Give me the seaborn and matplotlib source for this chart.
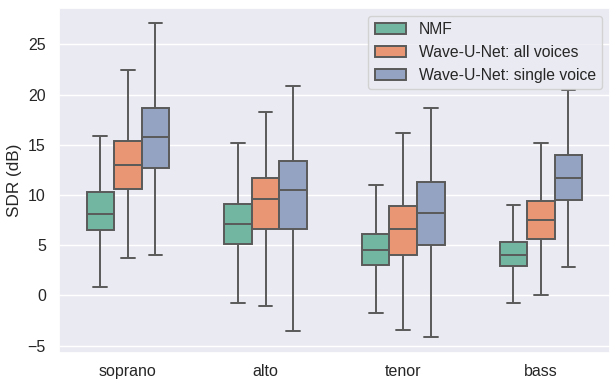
import pandas as pd
import matplotlib
matplotlib.use("Agg")
import matplotlib.pyplot as plt
import seaborn as sns

# Box statistics: min, q1, median, q3, max
voices = ["soprano", "alto", "tenor", "bass"]
methods = ["NMF", "Wave-U-Net: all voices", "Wave-U-Net: single voice"]

nmf = [
    [0.87, 6.47, 8.14, 10.26, 15.9],
    [-0.8, 5.11, 7.07, 9.13, 15.14],
    [-1.76, 3.02, 4.51, 6.14, 10.99],
    [-0.77, 2.89, 4.02, 5.35, 9.03],
]
wun_all = [
    [3.72, 10.63, 12.95, 15.34, 22.44],
    [-1.07, 6.6, 9.63, 11.72, 18.26],
    [-3.45, 4.02, 6.57, 8.93, 16.17],
    [0.03, 5.65, 7.5, 9.43, 15.14],
]
wun_single = [
    [4.02, 12.65, 15.74, 18.66, 27.1],
    [-3.59, 6.57, 10.53, 13.35, 20.89],
    [-4.15, 5.01, 8.2, 11.25, 18.63],
    [2.79, 9.46, 11.72, 13.97, 20.49],
]

# Long-format table: five values per group reproduce the quartiles exactly
rows = []
for method, stats in zip(methods, [nmf, wun_all, wun_single]):
    for voice, vals in zip(voices, stats):
        for v in vals:
            rows.append({"voice": voice, "method": method, "SDR": v})
df = pd.DataFrame(rows)

sns.set_theme(style="darkgrid")
plt.rcParams["font.family"] = ["Liberation Sans", "DejaVu Sans"]

fig, ax = plt.subplots(figsize=(6.11, 3.79), dpi=100)
sns.boxplot(data=df, x="voice", y="SDR", hue="method", order=voices,
            hue_order=methods, palette="Set2", width=0.6, whis=(0, 100),
            linecolor="#5a5a5a", linewidth=1.4, saturation=0.75, ax=ax)
ax.set_xlabel("")
ax.set_ylabel("SDR (dB)", fontsize=12.3)
ax.tick_params(axis="y", labelsize=11.5)
ax.tick_params(axis="x", labelsize=11.5, pad=2)
ax.legend(loc="upper right", title=None, fontsize=11.3)
fig.subplots_adjust(left=0.0966, right=0.998, bottom=0.0694, top=0.9797)
plt.savefig("out.png", dpi=100)
